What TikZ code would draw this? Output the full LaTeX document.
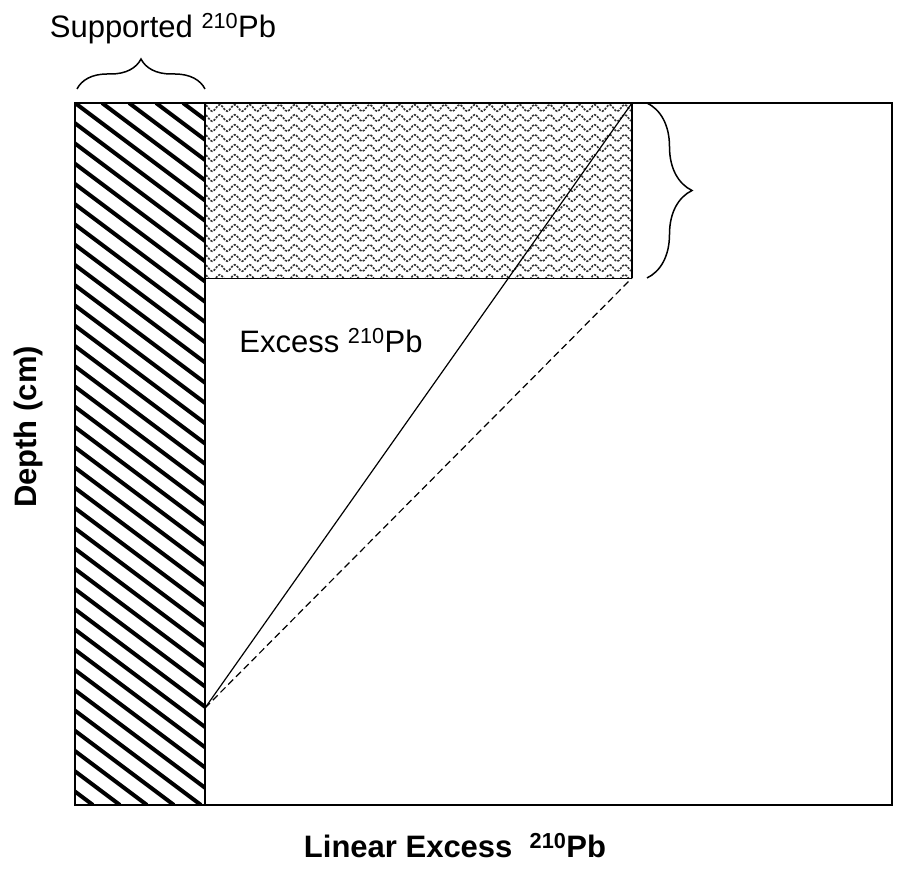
\documentclass[tikz,border=0pt]{standalone}
\usepackage{fontspec}
\setmainfont{Liberation Sans}
\usetikzlibrary{decorations.pathreplacing,%
                decorations.pathmorphing,%
                positioning}

\begin{document}
\begin{tikzpicture}[x=1pt, y=-1pt, every node/.style={inner sep=0pt}]
        \tikzset{
          lbl/.style={font=\fontsize{31}{34}\selectfont},
          axlbl/.style={font=\fontsize{31}{34}\selectfont\bfseries},
          curly/.style={decorate, decoration={brace, amplitude=#1}, line width=1.5pt},
          wave/.style={decorate, decoration={snake, segment length=15pt, amplitude=3.3pt},
                       line width=1.6pt, dash pattern=on 2.2pt off 1.3pt, black!80},
          hatch/.style={line width=4pt},
        }
        \useasboundingbox (0,0) rectangle (907,877);
        \coordinate (tl) at (75,103);
        \coordinate (br) at (892,805);
        \coordinate (suptop) at (205,103);
        \coordinate (supbot) at (205,805);
        \coordinate (base) at (205,708);
        \coordinate (exctop) at (632,103);
        \coordinate (excbot) at (632,278);
        \coordinate (excleft) at (205,278);
        % supported column
        \begin{scope}
          \clip (tl) rectangle (supbot);
          \foreach \k in {-36,...,6}
            \draw[hatch] (75+27*\k,103) -- ++(936,702);
        \end{scope}
        % excess block
        \begin{scope}
          \clip (suptop) rectangle (excbot);
          \foreach \r in {0,...,17}
            \draw[wave] (200,108+10*\r) -- (640,108+10*\r);
        \end{scope}
        \draw[line width=1.4pt] (suptop) -- (supbot);
        \draw[line width=1.4pt] (exctop) -- (excbot);
        \draw[line width=1pt] (excleft) -- (excbot);
        % profiles
        \draw[line width=1.2pt] (base) -- (exctop);
        \draw[line width=1.2pt, dash pattern=on 7pt off 4pt] (base) -- (excbot);
        % frame
        \draw[line width=2pt] (tl) rectangle (br);
        % braces
        \coordinate (bl) at (77,89);
        \coordinate (bm) at (205,89);
        \draw[curly=30pt] (bl) -- (bm);
        \coordinate (rt) at (647,103);
        \coordinate (rb) at (647,278);
        \draw[curly=45pt] (rt) -- (rb);
        % labels
        \node[lbl] (supp) at (163,29) {Supported \textsuperscript{210}Pb};
        \node[lbl] (exc) at (331,341) {Excess \textsuperscript{210}Pb};
        \node[axlbl] (xlab) at (455,846) {Linear Excess\ \ \textsuperscript{210}Pb};
        \node[axlbl, rotate=90] (ylab) at (28,427) {Depth (cm)};
    \end{tikzpicture}
\end{document}
